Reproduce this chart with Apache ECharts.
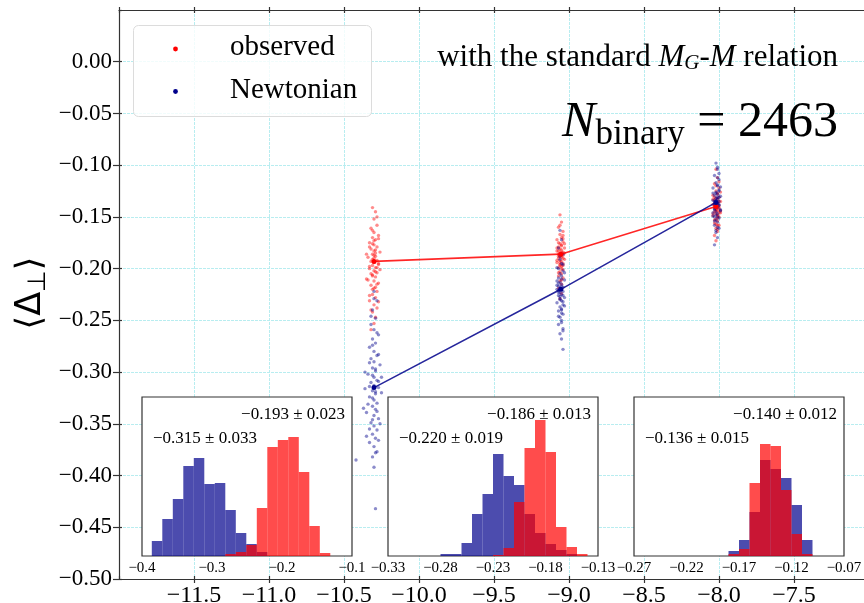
<!DOCTYPE html>
<html><head><meta charset="utf-8">
<script src="https://cdn.jsdelivr.net/npm/echarts@6.0.0/dist/echarts.min.js"></script>
<style>html,body{margin:0;padding:0;background:#fff}#c{width:864px;height:603px}</style>
</head><body><div id="c"></div>
<script>
// ---------------- data ----------------
const meanX = [-10.30, -9.055, -8.02];
const meanObserved = [-0.193, -0.186, -0.140];
const meanNewtonian = [-0.315, -0.220, -0.136];

const obsCloud1 = [[-10.31,-0.141],[-10.29,-0.145],[-10.30,-0.152],[-10.28,-0.158],[-10.32,-0.161],[-10.30,-0.165],[-10.27,-0.168],[-10.31,-0.170],[-10.29,-0.172],[-10.33,-0.175],[-10.30,-0.177],[-10.28,-0.179],[-10.32,-0.181],[-10.30,-0.183],[-10.26,-0.184],[-10.31,-0.186],[-10.29,-0.188],[-10.34,-0.189],[-10.30,-0.190],[-10.28,-0.192],[-10.32,-0.193],[-10.30,-0.194],[-10.27,-0.196],[-10.31,-0.197],[-10.29,-0.199],[-10.33,-0.200],[-10.30,-0.202],[-10.28,-0.204],[-10.31,-0.206],[-10.29,-0.208],[-10.35,-0.210],[-10.30,-0.212],[-10.27,-0.214],[-10.32,-0.216],[-10.30,-0.219],[-10.28,-0.222],[-10.31,-0.225],[-10.29,-0.228],[-10.33,-0.231],[-10.30,-0.235],[-10.28,-0.238],[-10.31,-0.242],[-10.29,-0.247],[-10.30,-0.253],[-10.32,-0.259],[-10.29,-0.182],[-10.31,-0.176],[-10.28,-0.199],[-10.32,-0.205],[-10.30,-0.187],
  [-10.27,-0.171],[-10.33,-0.179],[-10.29,-0.185],[-10.31,-0.191],[-10.27,-0.195],[-10.33,-0.198],[-10.29,-0.203],[-10.31,-0.207],[-10.34,-0.211],[-10.28,-0.215],[-10.31,-0.220],[-10.33,-0.226],[-10.27,-0.232],[-10.31,-0.163],[-10.28,-0.150],[-10.32,-0.240],[-10.29,-0.218],[-10.30,-0.173],[-10.35,-0.186],[-10.26,-0.201]];
const newCloud1 = [[-10.30,-0.222],[-10.28,-0.231],[-10.31,-0.240],[-10.29,-0.248],[-10.32,-0.254],[-10.30,-0.259],[-10.27,-0.264],[-10.31,-0.268],[-10.29,-0.272],[-10.33,-0.276],[-10.30,-0.280],[-10.28,-0.284],[-10.32,-0.287],[-10.30,-0.290],[-10.26,-0.293],[-10.31,-0.296],[-10.29,-0.299],[-10.34,-0.302],[-10.30,-0.305],[-10.28,-0.308],[-10.32,-0.310],[-10.30,-0.313],[-10.27,-0.315],[-10.31,-0.318],[-10.29,-0.321],[-10.33,-0.324],[-10.30,-0.327],[-10.28,-0.330],[-10.31,-0.333],[-10.29,-0.336],[-10.35,-0.339],[-10.30,-0.342],[-10.27,-0.345],[-10.32,-0.349],[-10.30,-0.352],[-10.28,-0.356],[-10.31,-0.360],[-10.29,-0.364],[-10.33,-0.368],[-10.30,-0.372],[-10.28,-0.377],[-10.31,-0.382],[-10.42,-0.385],[-10.30,-0.392],[-10.29,-0.432],[-10.36,-0.300],[-10.25,-0.320],[-10.37,-0.335],[-10.26,-0.350],[-10.35,-0.362],
  [-10.27,-0.283],[-10.33,-0.291],[-10.29,-0.297],[-10.31,-0.303],[-10.27,-0.309],[-10.33,-0.314],[-10.29,-0.319],[-10.31,-0.325],[-10.34,-0.331],[-10.28,-0.338],[-10.31,-0.346],[-10.33,-0.355],[-10.27,-0.366],[-10.31,-0.274],[-10.28,-0.262],[-10.32,-0.246],[-10.29,-0.378],[-10.36,-0.316],[-10.25,-0.305],[-10.30,-0.229]];
const obsCloud2 = [[-9.06,-0.148],[-9.05,-0.155],[-9.07,-0.160],[-9.04,-0.164],[-9.06,-0.167],[-9.05,-0.170],[-9.08,-0.172],[-9.04,-0.174],[-9.06,-0.176],[-9.05,-0.177],[-9.07,-0.179],[-9.03,-0.180],[-9.06,-0.181],[-9.05,-0.182],[-9.08,-0.183],[-9.04,-0.184],[-9.06,-0.185],[-9.05,-0.186],[-9.07,-0.186],[-9.04,-0.187],[-9.06,-0.188],[-9.05,-0.189],[-9.07,-0.190],[-9.03,-0.191],[-9.06,-0.192],[-9.05,-0.193],[-9.08,-0.194],[-9.04,-0.195],[-9.06,-0.196],[-9.05,-0.198],[-9.07,-0.199],[-9.04,-0.201],[-9.06,-0.203],[-9.05,-0.205],[-9.07,-0.207],[-9.04,-0.209],[-9.06,-0.212],[-9.05,-0.215],[-9.07,-0.219],[-9.05,-0.224],[-9.06,-0.229],[-9.04,-0.171],[-9.07,-0.183],[-9.05,-0.178],[-9.06,-0.197],
  [-9.03,-0.176],[-9.08,-0.180],[-9.05,-0.184],[-9.07,-0.188],[-9.04,-0.190],[-9.06,-0.194],[-9.03,-0.185],[-9.08,-0.192],[-9.05,-0.200],[-9.07,-0.204],[-9.04,-0.168],[-9.06,-0.158],[-9.05,-0.211],[-9.07,-0.175],[-9.04,-0.197]];
const newCloud2 = [[-9.06,-0.163],[-9.05,-0.172],[-9.07,-0.180],[-9.04,-0.186],[-9.06,-0.191],[-9.05,-0.195],[-9.08,-0.199],[-9.04,-0.202],[-9.06,-0.205],[-9.05,-0.207],[-9.07,-0.209],[-9.03,-0.211],[-9.06,-0.213],[-9.05,-0.215],[-9.08,-0.216],[-9.04,-0.218],[-9.06,-0.219],[-9.05,-0.220],[-9.07,-0.221],[-9.04,-0.222],[-9.06,-0.223],[-9.05,-0.225],[-9.07,-0.226],[-9.03,-0.228],[-9.06,-0.229],[-9.05,-0.231],[-9.08,-0.233],[-9.04,-0.235],[-9.06,-0.237],[-9.05,-0.239],[-9.07,-0.241],[-9.04,-0.244],[-9.06,-0.247],[-9.05,-0.250],[-9.07,-0.254],[-9.04,-0.258],[-9.06,-0.263],[-9.05,-0.268],[-9.04,-0.278],[-9.07,-0.217],[-9.05,-0.210],[-9.06,-0.227],[-9.04,-0.232],[-9.07,-0.200],[-9.05,-0.243],
  [-9.03,-0.204],[-9.08,-0.212],[-9.05,-0.217],[-9.07,-0.223],[-9.04,-0.226],[-9.06,-0.230],[-9.03,-0.236],[-9.08,-0.220],[-9.05,-0.240],[-9.07,-0.246],[-9.04,-0.196],[-9.06,-0.188],[-9.05,-0.252],[-9.07,-0.214],[-9.04,-0.260]];
const obsCloud3 = [[-8.02,-0.104],[-8.01,-0.112],[-8.03,-0.118],[-8.00,-0.122],[-8.02,-0.125],[-8.01,-0.127],[-8.04,-0.129],[-8.00,-0.131],[-8.02,-0.132],[-8.01,-0.133],[-8.03,-0.134],[-7.99,-0.135],[-8.02,-0.136],[-8.01,-0.137],[-8.04,-0.138],[-8.00,-0.139],[-8.02,-0.140],[-8.01,-0.140],[-8.03,-0.141],[-8.00,-0.142],[-8.02,-0.143],[-8.01,-0.144],[-8.03,-0.145],[-7.99,-0.146],[-8.02,-0.147],[-8.01,-0.148],[-8.04,-0.149],[-8.00,-0.150],[-8.02,-0.152],[-8.01,-0.154],[-8.03,-0.156],[-8.00,-0.158],[-8.02,-0.161],[-8.01,-0.164],[-8.03,-0.168],[-8.02,-0.173],[-8.01,-0.128],[-8.03,-0.137],[-8.00,-0.135],[-8.02,-0.144],[-8.01,-0.151],[-8.03,-0.131],[-8.00,-0.146],[-8.02,-0.120],[-8.01,-0.158],
  [-7.99,-0.126],[-8.04,-0.133],[-8.01,-0.136],[-8.03,-0.139],[-8.00,-0.141],[-8.02,-0.142],[-7.99,-0.144],[-8.04,-0.147],[-8.01,-0.149],[-8.03,-0.153],[-8.00,-0.116],[-8.02,-0.157],[-8.01,-0.162]];
const newCloud3 = [[-8.02,-0.098],[-8.01,-0.104],[-8.03,-0.110],[-8.00,-0.114],[-8.02,-0.117],[-8.01,-0.120],[-8.04,-0.122],[-8.00,-0.124],[-8.02,-0.126],[-8.01,-0.128],[-8.03,-0.129],[-7.99,-0.130],[-8.02,-0.132],[-8.01,-0.133],[-8.04,-0.134],[-8.00,-0.135],[-8.02,-0.136],[-8.01,-0.137],[-8.03,-0.138],[-8.00,-0.139],[-8.02,-0.140],[-8.01,-0.141],[-8.03,-0.143],[-7.99,-0.144],[-8.02,-0.145],[-8.01,-0.147],[-8.04,-0.149],[-8.00,-0.151],[-8.02,-0.153],[-8.01,-0.155],[-8.03,-0.158],[-8.00,-0.161],[-8.02,-0.165],[-8.01,-0.170],[-8.03,-0.177],[-8.02,-0.127],[-8.01,-0.119],[-8.03,-0.142],[-8.00,-0.131],[-8.02,-0.148],[-8.01,-0.112],[-8.03,-0.150],[-8.00,-0.125],[-8.02,-0.134],[-8.01,-0.160],
  [-7.99,-0.121],[-8.04,-0.127],[-8.01,-0.131],[-8.03,-0.135],[-8.00,-0.138],[-8.02,-0.141],[-7.99,-0.143],[-8.04,-0.146],[-8.01,-0.150],[-8.03,-0.154],[-8.00,-0.108],[-8.02,-0.163],[-8.01,-0.102]];

// inset histograms (bin edges, heights)
const hist1Edges = [-0.386,-0.371,-0.356,-0.341,-0.326,-0.311,-0.296,-0.281,-0.266,-0.251,-0.236,-0.221,-0.206,-0.191,-0.176,-0.161,-0.146,-0.131];
const hist1Newtonian = [15,37,57,90,98,72,73,46,23,12,4,0,0,0,0,0,0];
const hist1Observed  = [0,0,0,0,0,0,0,2,4,11,48,109,116,119,84,30,3];
const hist2Edges = [-0.28,-0.27,-0.26,-0.25,-0.24,-0.23,-0.22,-0.21,-0.20,-0.19,-0.18,-0.17,-0.16,-0.15,-0.14];
const hist2Newtonian = [2,2,13,42,62,102,80,71,42,23,12,6,2,0];
const hist2Observed  = [0,0,0,0,0,1,8,54,108,136,104,29,9,2];
const hist3Edges = [-0.18,-0.17,-0.16,-0.15,-0.14,-0.13,-0.12,-0.11,-0.10];
const hist3Newtonian = [5,16,44,96,87,78,51,16];
const hist3Observed  = [2,7,73,112,110,66,22,2];

const insetRanges = [[-0.4,-0.1,0.1,1],[-0.33,-0.13,0.05,2],[-0.27,-0.07,0.05,2]];
const insetObservedText = ['\u22120.193 \u00b1 0.023','\u22120.186 \u00b1 0.013','\u22120.140 \u00b1 0.012'];
const insetNewtonianText = ['\u22120.315 \u00b1 0.033','\u22120.220 \u00b1 0.019','\u22120.136 \u00b1 0.015'];

// ---------------- chart ----------------
const SERIF = '"Liberation Serif", "Times New Roman", serif';
const RED = '#ff0000', BLUE = '#00008b';
const fmt = (v, d) => { const s = Math.abs(v).toFixed(d); return (v < -1e-9 && Number(s) !== 0 ? '\u2212' : '') + s; };

const insetBoxes = [[142,397],[388,397],[634,397]];
const IW = 210, IH = 159;

const grids = [{left:119, top:10, width:750, height:569, show:false, outerBoundsMode:'none', containLabel:false}];
insetBoxes.forEach(b => grids.push({left:b[0], top:b[1], width:IW, height:IH, show:true, backgroundColor:'#fff', borderColor:'#333', borderWidth:1.2, z:3, outerBoundsMode:'none', containLabel:false}));

const spine = {color:'#333', width:1.2};
const gridLine = {color:'#b8edf0', width:1, type:[3,1]};
const mainX = (pos, extra) => Object.assign({type:'value', gridIndex:0, min:-12, max:-7, interval:0.5, position:pos,
  axisLine:{show:false, onZero:false, lineStyle:spine}, axisTick:{show:false}, axisLabel:{show:false}, splitLine:{show:false}, z:1}, extra);
const xAxes = [
  mainX('bottom', {axisLine:{show:true, onZero:false, lineStyle:spine},
    axisTick:{show:true, inside:false, length:4, lineStyle:spine},
    axisLabel:{show:true, fontFamily:SERIF, fontSize:24, color:'#000', margin:5, showMinLabel:false, showMaxLabel:false, formatter:v=>fmt(v,1)},
    splitLine:{show:true, lineStyle:gridLine}}),
  mainX('top', {axisLine:{show:true, onZero:false, lineStyle:spine}, axisTick:{show:true, inside:true, length:3, lineStyle:spine}}),
  mainX('top', {axisTick:{show:true, inside:false, length:3, lineStyle:spine}}),
  mainX('bottom', {axisTick:{show:true, inside:true, length:3, lineStyle:spine}})
];
insetRanges.forEach((r, i) => xAxes.push({type:'value', gridIndex:i+1, min:r[0], max:r[1], interval:r[2], position:'bottom',
  axisLine:{show:false, onZero:false}, axisTick:{show:false}, splitLine:{show:false}, z:4,
  axisLabel:{show:true, fontFamily:SERIF, fontSize:15, color:'#000', margin:5, showMinLabel:true, showMaxLabel:true, hideOverlap:false, formatter:v=>fmt(v, r[3])}}));

const yAxes = [
  {type:'value', gridIndex:0, min:-0.5, max:0.05, interval:0.05, position:'left', z:1,
   axisLine:{show:true, onZero:false, lineStyle:spine}, axisTick:{show:true, inside:false, length:6, lineStyle:spine},
   axisLabel:{fontFamily:SERIF, fontSize:23, color:'#000', margin:7, showMaxLabel:false, formatter:v=>fmt(v,2)},
   splitLine:{show:true, lineStyle:gridLine}},
  {type:'value', gridIndex:0, min:-0.5, max:0.05, interval:0.05, position:'left', z:1,
   axisLine:{show:false, onZero:false}, axisTick:{show:true, inside:true, length:3, lineStyle:spine}, axisLabel:{show:false}, splitLine:{show:false}}
];
[1,2,3].forEach(g => yAxes.push({type:'value', gridIndex:g, min:0, max:159, show:false}));

function hist(gi, edges, counts, color, name) {
  const data = [];
  counts.forEach((c, i) => { if (c > 0) data.push([edges[i], edges[i+1], c]); });
  return {type:'custom', name, xAxisIndex:3+gi, yAxisIndex:1+gi, z:5, data, encode:{x:[0,1], y:2},
    renderItem:(params, api) => {
      const p0 = api.coord([api.value(0), api.value(2)]);
      const p1 = api.coord([api.value(1), 0]);
      return {type:'rect', shape:{x:p0[0], y:p0[1], width:p1[0]-p0[0], height:p1[1]-p0[1]}, style:{fill:color}};
    }};
}

const series = [
  {type:'scatter', name:'observed', xAxisIndex:0, yAxisIndex:0, z:2, symbol:'circle', symbolSize:3.4,
   itemStyle:{color:RED, opacity:0.45}, data:obsCloud1.concat(obsCloud2, obsCloud3)},
  {type:'scatter', name:'Newtonian', xAxisIndex:0, yAxisIndex:0, z:2, symbol:'circle', symbolSize:3.4,
   itemStyle:{color:BLUE, opacity:0.45}, data:newCloud1.concat(newCloud2, newCloud3)},
  {type:'line', name:'observed mean', xAxisIndex:0, yAxisIndex:0, z:3, symbol:'circle', symbolSize:5, showSymbol:true,
   lineStyle:{color:RED, width:1.6, opacity:0.85}, itemStyle:{color:RED, borderWidth:0},
   data:meanX.map((x,i)=>[x, meanObserved[i]])},
  {type:'line', name:'Newtonian mean', xAxisIndex:0, yAxisIndex:0, z:3, symbol:'circle', symbolSize:5, showSymbol:true,
   lineStyle:{color:BLUE, width:1.6, opacity:0.85}, itemStyle:{color:BLUE, borderWidth:0},
   data:meanX.map((x,i)=>[x, meanNewtonian[i]])},
  hist(1, hist1Edges, hist1Newtonian, 'rgba(0,0,139,0.7)', 'Newtonian'),
  hist(1, hist1Edges, hist1Observed, 'rgba(255,0,0,0.7)', 'observed'),
  hist(2, hist2Edges, hist2Newtonian, 'rgba(0,0,139,0.7)', 'Newtonian'),
  hist(2, hist2Edges, hist2Observed, 'rgba(255,0,0,0.7)', 'observed'),
  hist(3, hist3Edges, hist3Newtonian, 'rgba(0,0,139,0.7)', 'Newtonian'),
  hist(3, hist3Edges, hist3Observed, 'rgba(255,0,0,0.7)', 'observed')
];

const txt = (x, y, text, extra) => ({type:'text', x, y, z:20, silent:true,
  style:Object.assign({text, fill:'#000', fontFamily:SERIF, fontSize:17, align:'left', textAlign:'left', verticalAlign:'middle', textVerticalAlign:'middle'}, extra)});

const graphic = [
  {type:'rect', z:10, silent:true, shape:{x:133.5, y:25.5, width:238, height:91, r:5},
   style:{fill:'rgba(255,255,255,0.8)', stroke:'#dcdcdc', lineWidth:1}},
  {type:'circle', z:11, silent:true, shape:{cx:175.5, cy:49, r:2.4}, style:{fill:RED}},
  {type:'circle', z:11, silent:true, shape:{cx:175.5, cy:91.5, r:2.4}, style:{fill:BLUE}},
  txt(230, 47, 'observed', {fontSize:29}),
  txt(230, 90, 'Newtonian', {fontSize:29}),
  txt(838, 57.5, 'with the standard {i|M}{s|G}-{i|M} relation', {fontSize:31, align:'right', textAlign:'right',
    rich:{i:{fontStyle:'italic', fontSize:31, fontFamily:SERIF}, s:{fontStyle:'italic', fontSize:21, fontFamily:SERIF, padding:[11,0,0,0]}}}),
  txt(838, 123, '{n|N}{s|binary}{m| = 2463}', {fontSize:50, align:'right', textAlign:'right',
    rich:{n:{fontStyle:'italic', fontSize:50, fontFamily:SERIF}, s:{fontSize:35, fontFamily:SERIF, padding:[24,0,0,0]}, m:{fontSize:50, fontFamily:SERIF}}}),
  {type:'text', x:31, y:293, rotation:Math.PI/2, z:20, silent:true,
   style:{text:'{a|\u27e8\u0394}{s|\u22a5}{a|\u27e9}', align:'center', textAlign:'center', verticalAlign:'middle', textVerticalAlign:'middle', fill:'#000',
     rich:{a:{fontFamily:'"DejaVu Sans"', fontSize:35}, s:{fontFamily:'"DejaVu Sans"', fontSize:25, padding:[14,0,0,0]}}}}
];
insetBoxes.forEach((b, i) => {
  graphic.push(txt(b[0] + IW - 7, 415, insetObservedText[i], {align:'right', textAlign:'right'}));
  graphic.push(txt(b[0] + 11, 439, insetNewtonianText[i]));
});

const chart = echarts.init(document.getElementById('c'), null, {renderer:'canvas'});
chart.setOption({animation:false, backgroundColor:'#fff', grid:grids, xAxis:xAxes, yAxis:yAxes, series, graphic});
</script></body></html>
